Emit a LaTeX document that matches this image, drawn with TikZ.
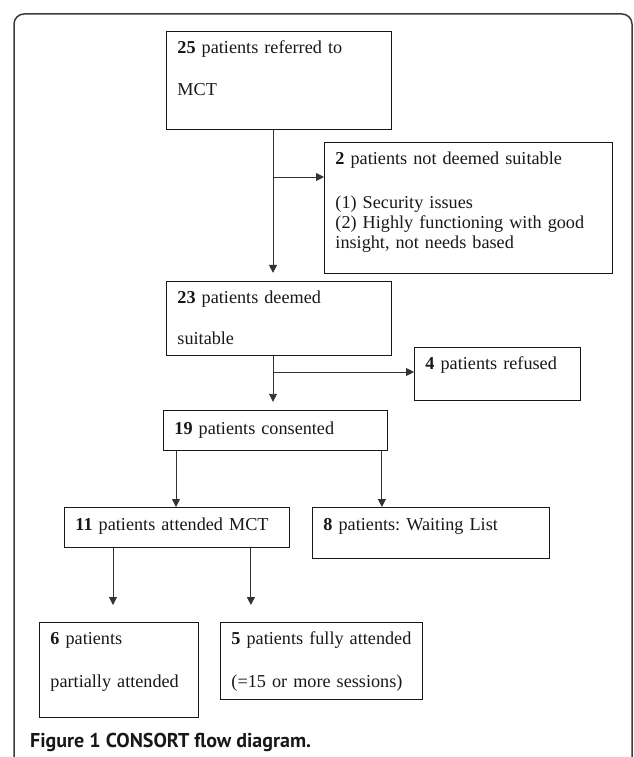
\documentclass[tikz,border=0pt]{standalone}
\usepackage{xcolor}
\usepackage{fontspec}
\setmainfont{Liberation Serif}
\newfontfamily\captionfont{PT Sans}
\usepackage{tikz}
\usetikzlibrary{arrows.meta, positioning, calc}
\definecolor{flowink}{HTML}{1A1718}
\definecolor{flowline}{HTML}{333333}
\definecolor{framegray}{HTML}{3C3C3C}
\frenchspacing

\begin{document}
\begin{tikzpicture}[x=1pt, y=-1pt,
        box/.style={draw=flowink, line width=0.9pt, anchor=north west, align=left, inner xsep=11pt, inner ysep=0pt, text height=22pt, font=\fontsize{18.2}{20}\selectfont, text=flowink},
        arrow/.style={-{Triangle[length=8pt,width=8pt]}, line width=0.9pt, flowline}
    ]
        \useasboundingbox (0,0) rectangle (633,757);
        \draw [framegray, line width=1.5pt, rounded corners=10pt] (14,757) -- (14,14) -- (632,14) -- (632,757);

        \node (referred) [box, text width=203pt, text depth=76pt] at (166,31) {\textbf{25} patients referred to\\[22pt]MCT};
        \node (unsuitable) [box, text width=266pt, text depth=109pt] at (324,142) {\textbf{2} patients not deemed suitable\\[24pt](1) Security issues\\(2) Highly functioning with good\\insight, not needs based};
        \node (suitable) [box, text width=203pt, text depth=52pt, below=151pt of referred.south west, anchor=north west] {\textbf{23} patients deemed\\[21pt]suitable};
        \node (refused) [box, text width=144pt, text depth=31pt] at (414,347) {\textbf{4} patients refused};
        \node (consented) [box, text width=202pt, text height=24pt, text depth=16pt, below=54pt of suitable.south west, xshift=-3pt, anchor=north west] {\textbf{19} patients consented};
        \node (attended) [box, text width=203pt, text height=23pt, text depth=17pt] at (64,507) {\textbf{11} patients attended MCT};
        \node (waiting) [box, text width=215pt, text height=23pt, text depth=28pt] at (312,507) {\textbf{8} patients: Waiting List};
        \node (partial) [box, text width=137pt, text depth=73pt] at (39,622) {\textbf{6} patients\\[23pt]partially attended};
        \node (full) [box, text width=180pt, text depth=55pt] at (220,622) {\textbf{5} patients fully attended\\[23pt](=15 or more sessions)};

        \node (caption) [anchor=base west, inner sep=0pt, text=flowink, font=\captionfont\bfseries\fontsize{20}{24}\selectfont] at (30,747) {Figure 1 CONSORT flow diagram.};

        \coordinate (split1) at (273,177);
        \coordinate (split2) at (273,372);

        \draw [arrow, shorten >=8pt] (split1 |- referred.south) -- (split1 |- suitable.north);
        \draw [arrow] (split1) -- (split1 -| unsuitable.west);
        \draw [arrow, shorten >=8pt] (split2 |- suitable.south) -- (split2 |- consented.north);
        \draw [arrow] (split2) -- (split2 -| refused.west);
        \draw [arrow] ([xshift=13pt]consented.south west) -- ([xshift=13pt]consented.south west |- attended.north);
        \draw [arrow] ([xshift=-6pt]consented.south east) -- ([xshift=-6pt]consented.south east |- waiting.north);
        \draw [arrow, shorten >=17pt] ([xshift=49pt]attended.south west) -- ([xshift=49pt]attended.south west |- partial.north);
        \draw [arrow, shorten >=17pt] ([xshift=-39pt]attended.south east) -- ([xshift=-39pt]attended.south east |- full.north);
    \end{tikzpicture}
\end{document}
